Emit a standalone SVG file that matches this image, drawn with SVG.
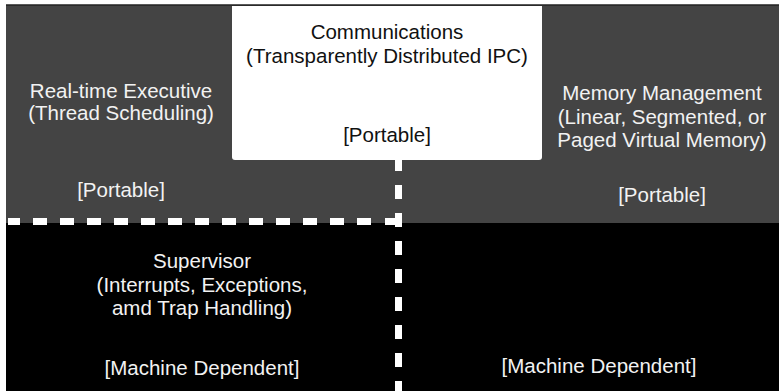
<svg xmlns="http://www.w3.org/2000/svg" width="779" height="391" viewBox="0 0 779 391">
<style>
text{font-family:"Liberation Sans",Arial,sans-serif;font-size:20.5px;text-anchor:middle}
.lt{fill:#f2f2f2}
.dk{fill:#111}
.dash{stroke:#fff;stroke-width:7;fill:none}
</style>
<rect x="0" y="0" width="779" height="391" fill="#fff"/>
<g id="exec">
<rect x="6" y="5" width="773" height="218" fill="#444"/>
<text class="lt" x="121" y="98">Real-time Executive</text>
<text class="lt" x="121" y="120">(Thread Scheduling)</text>
<text class="lt" x="121" y="197">[Portable]</text>
</g>
<g id="memory">
<text class="lt" x="662" y="100">Memory Management</text>
<text class="lt" x="662" y="124">(Linear, Segmented, or</text>
<text class="lt" x="662" y="147">Paged Virtual Memory)</text>
<text class="lt" x="662" y="202">[Portable]</text>
</g>
<g id="supervisor">
<rect x="6" y="223" width="773" height="168" fill="#000"/>
<text class="lt" x="202" y="268">Supervisor</text>
<text class="lt" x="202" y="292">(Interrupts, Exceptions,</text>
<text class="lt" x="202" y="315">amd Trap Handling)</text>
<text class="lt" x="202" y="375">[Machine Dependent]</text>
</g>
<g id="machine">
<text class="lt" x="599" y="373">[Machine Dependent]</text>
</g>
<g id="comm">
<path d="M232 6 H542 V157 Q542 160 539 160 H235 Q232 160 232 157 Z" fill="#fff"/>
<line x1="6" y1="5" x2="779" y2="5" stroke="#222" stroke-width="1.5"/>
<text class="dk" x="387" y="39">Communications</text>
<text class="dk" x="387" y="63">(Transparently Distributed IPC)</text>
<text class="dk" x="387" y="142">[Portable]</text>
</g>
<g id="connectors">
<line class="dash" x1="398.5" y1="157" x2="398.5" y2="391" stroke-dasharray="14 14"/>
<line class="dash" x1="402" y1="221.5" x2="385" y2="221.5"/>
<line class="dash" x1="371" y1="221.5" x2="8" y2="221.5" stroke-dasharray="14 13"/>
</g>
</svg>
